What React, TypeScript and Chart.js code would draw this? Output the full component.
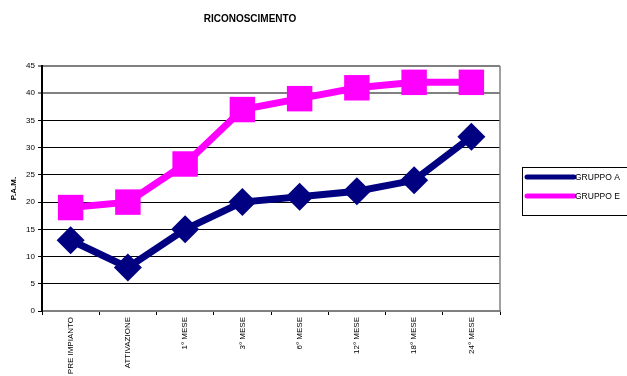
import React, { useEffect, useRef } from "react";
import { Chart, registerables } from "chart.js";

Chart.register(...registerables);

const categories = ["PRE IMPIANTO", "ATTIVAZIONE", "1° MESE", "3° MESE", "6° MESE", "12° MESE", "18° MESE", "24° MESE"];
const gruppoA = [13, 8, 15, 20, 21, 22, 24, 32];
const gruppoE = [19, 20, 27, 37, 39, 41, 42, 42];
const seriesNames = ["GRUPPO A", "GRUPPO E"];
const seriesColors = ["#000080", "#FF00FF"];
const titleText = "RICONOSCIMENTO";
const yTitle = "P.A.M.";

const FONT = "'Liberation Sans', Arial, sans-serif";

const extrasPlugin = {
  id: "extras",
  afterDraw(chart: any) {
    const { ctx, chartArea } = chart;
    ctx.save();
    // right border of plot area
    ctx.strokeStyle = "#808080";
    ctx.lineWidth = 1.5;
    ctx.beginPath();
    ctx.moveTo(chartArea.right, chartArea.top);
    ctx.lineTo(chartArea.right, chartArea.bottom);
    ctx.stroke();
    // legend
    const lx = 522, ly = 167, lw = 110, lh = 48;
    ctx.fillStyle = "#ffffff";
    ctx.fillRect(lx, ly, lw, lh);
    ctx.strokeStyle = "#000000";
    ctx.lineWidth = 1;
    ctx.strokeRect(lx + 0.5, ly + 0.5, lw, lh);
    ctx.font = `8.5px ${FONT}`;
    ctx.textBaseline = "middle";
    seriesNames.forEach((name, i) => {
      const y = ly + 10 + i * 19;
      ctx.strokeStyle = seriesColors[i];
      ctx.lineWidth = 5;
      ctx.lineCap = "round";
      ctx.beginPath();
      ctx.moveTo(lx + 5, y);
      ctx.lineTo(lx + 52, y);
      ctx.stroke();
      ctx.fillStyle = "#000000";
      ctx.fillText(name, lx + 53, y + 1);
    });
    ctx.restore();
  },
};

export default function App() {
  const ref = useRef<HTMLCanvasElement | null>(null);
  useEffect(() => {
    if (!ref.current) return;
    const chart = new Chart(ref.current, {
      type: "line",
      data: {
        labels: categories,
        datasets: [
          {
            label: seriesNames[0],
            data: gruppoA,
            borderColor: seriesColors[0],
            backgroundColor: seriesColors[0],
            borderWidth: 7,
            pointStyle: "rectRot",
            pointRadius: 14,
            pointBorderWidth: 0,
            tension: 0,
          },
          {
            label: seriesNames[1],
            data: gruppoE,
            borderColor: seriesColors[1],
            backgroundColor: seriesColors[1],
            borderWidth: 7,
            pointStyle: "rect",
            pointRadius: 18,
            pointBorderWidth: 0,
            tension: 0,
          },
        ],
      },
      options: {
        animation: false,
        responsive: false,
        layout: { padding: { left: 0, right: 127, top: 0, bottom: 0 } },
        plugins: {
          legend: { display: false },
          tooltip: { enabled: false },
          title: {
            display: true,
            text: titleText,
            color: "#000",
            font: { family: FONT, size: 10, weight: "bold" },
            padding: { top: 13, bottom: 41 },
          },
        },
        scales: {
          x: {
            offset: true,
            grid: {
              offset: true,
              drawOnChartArea: false,
              drawTicks: true,
              tickLength: 4,
              color: "#000",
            },
            border: { display: true, color: "#808080", width: 2 },
            ticks: {
              minRotation: 90,
              maxRotation: 90,
              autoSkip: false,
              color: "#000",
              padding: 2,
              font: { family: FONT, size: 8 },
            },
            afterFit(scale: any) {
              scale.height = 65;
            },
          },
          y: {
            min: 0,
            max: 45,
            ticks: {
              stepSize: 5,
              color: "#000",
              padding: 3,
              font: { family: FONT, size: 8 },
            },
            grid: {
              color: (c: any) => (c.tick && c.tick.value >= 40 ? "#808080" : "#000"),
              lineWidth: (c: any) => (c.tick && c.tick.value >= 40 ? 2 : 1),
              tickLength: 4,
            },
            border: { display: true, color: "#000", width: 2 },
            title: {
              display: true,
              text: yTitle,
              color: "#000",
              font: { family: FONT, size: 8, weight: "bold" },
              padding: { top: 9, bottom: 0 },
            },
            afterFit(scale: any) {
              scale.width = 42;
            },
          },
        },
      },
      plugins: [extrasPlugin],
    } as any);
    return () => chart.destroy();
  }, []);
  return (
    <div style={{ position: "fixed", left: 0, top: 0, width: 627, height: 376, background: "#fff" }}>
      <canvas ref={ref} width={627} height={376} style={{ width: 627, height: 376 }} />
    </div>
  );
}
